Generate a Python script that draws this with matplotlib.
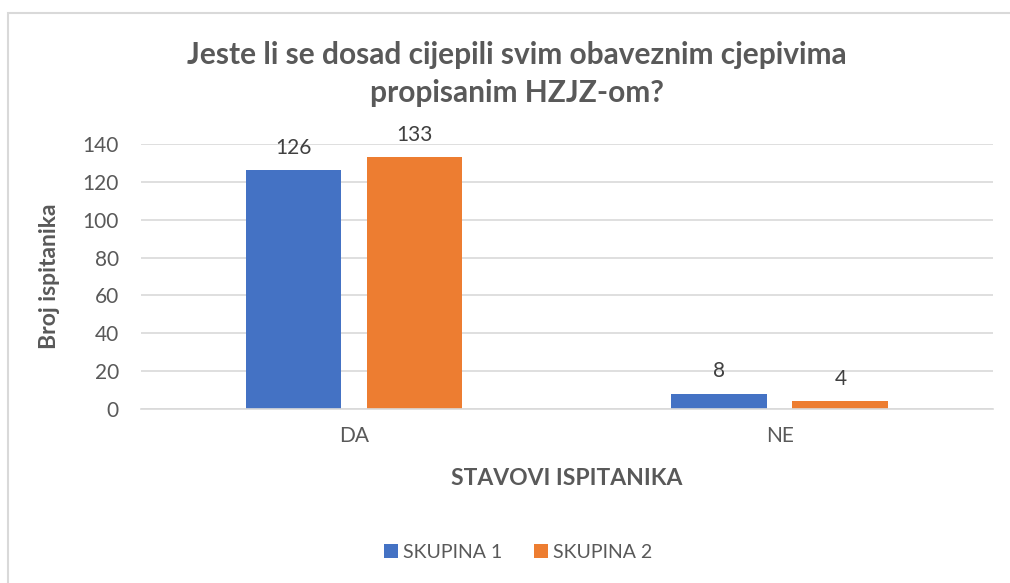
import matplotlib.pyplot as plt
import numpy as np
from matplotlib.patches import Rectangle

categories = ["DA", "NE"]
skupina1 = [126, 8]
skupina2 = [133, 4]
series_names = ["SKUPINA 1", "SKUPINA 2"]
yticks = [0, 20, 40, 60, 80, 100, 120, 140]

blue = "#4472c4"
orange = "#ed7d31"
text_gray = "#595959"
grid_gray = "#d9d9d9"

plt.rcParams["font.family"] = ["Lato", "DejaVu Sans"]

fig = plt.figure(figsize=(10.1, 5.83), dpi=100)
ax = fig.add_axes([0.1396, 0.2985, 0.8434, 0.4545])

x = np.arange(len(categories))
width = 0.225
offset = 0.142
b1 = ax.bar(x - offset, skupina1, width, color=blue, label=series_names[0], zorder=2)
b2 = ax.bar(x + offset, skupina2, width, color=orange, label=series_names[1], zorder=2)

for bars in (b1, b2):
    for bar in bars:
        ax.annotate(str(int(bar.get_height())),
                    (bar.get_x() + bar.get_width() / 2, bar.get_height()),
                    xytext=(0, 9), textcoords="offset points",
                    ha="center", va="bottom", fontsize=15, color="#404040")

ax.set_xlim(-0.5, 1.5)
ax.set_ylim(0, 140)
ax.set_yticks(yticks)
ax.set_xticks(x)
ax.set_xticklabels(categories)
ax.yaxis.grid(True, color=grid_gray, linewidth=1.2, zorder=0)
ax.set_axisbelow(True)
for side in ("top", "right", "left"):
    ax.spines[side].set_visible(False)
ax.spines["bottom"].set_color(grid_gray)
ax.spines["bottom"].set_linewidth(1.2)
ax.tick_params(axis="both", length=0, labelsize=15, colors=text_gray)
ax.tick_params(axis="y", pad=16)
ax.tick_params(axis="x", pad=12)

ax.set_ylabel("Broj ispitanika", fontsize=16.5, fontweight="bold", color=text_gray, labelpad=16)
ax.set_xlabel("STAVOVI ISPITANIKA", fontsize=16.5, fontweight="bold", color=text_gray, labelpad=16)

fig.text(0.512, 0.93, "Jeste li se dosad cijepili svim obaveznim cjepivima\npropisanim HZJZ-om?",
         ha="center", va="top", fontsize=21.5, fontweight="bold", color=text_gray,
         linespacing=1.45)

fig.legend(loc="center", bbox_to_anchor=(0.513, 0.053), ncol=2, frameon=False,
           fontsize=14, handlelength=0.75, handleheight=0.75, handletextpad=0.25,
           columnspacing=1.6, labelcolor=text_gray)

fig.patches.append(Rectangle((8 / 1010, -0.01), 1.0, 1 - 13 / 583 + 0.01,
                             transform=fig.transFigure, fill=False,
                             edgecolor=grid_gray, linewidth=1.5))

fig.savefig("out.png", dpi=100)
